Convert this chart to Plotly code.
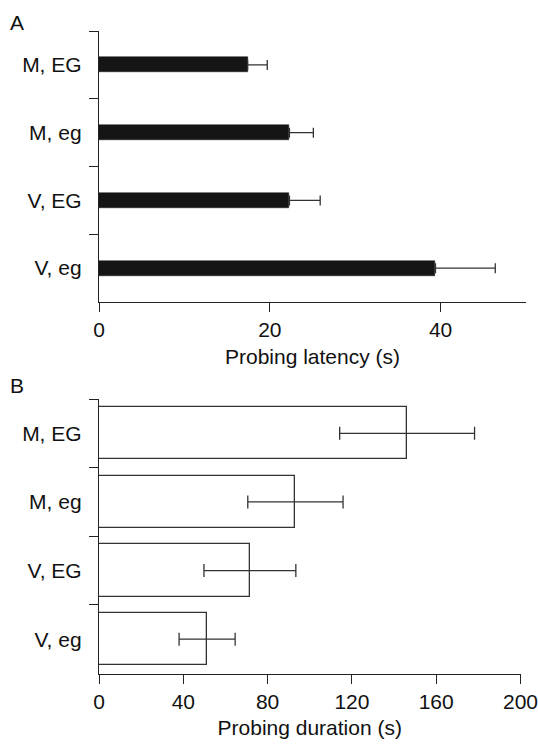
import plotly.graph_objects as go

W, H = 538, 744

categories = ["M, EG", "M, eg", "V, EG", "V, eg"]

latency_mean = [17.4, 22.3, 22.3, 39.4]
latency_err = [2.3, 2.8, 3.6, 7.0]

duration_mean = [146.2, 93.2, 71.6, 51.3]
duration_err = [32.0, 22.6, 21.8, 13.3]

latency_ticks = [0, 20, 40]
duration_ticks = [0, 40, 80, 120, 160, 200]

FONT = "Liberation Sans, Arial, Helvetica, sans-serif"
FS = 21
INK = "#222222"


def px_x(a, b):
    return [a / W, b / W]


def px_y(top, bottom):
    return [1 - bottom / H, 1 - top / H]


fig = go.Figure()

fig.add_trace(go.Bar(
    y=categories, x=latency_mean, orientation="h",
    width=0.22,
    marker=dict(color="#151515", line=dict(color="#151515", width=0.5)),
    error_x=dict(type="data", array=latency_err, arrayminus=[0] * len(latency_err),
                 symmetric=False, color="#333333", thickness=1.3, width=5),
    xaxis="x", yaxis="y", showlegend=False,
))

fig.add_trace(go.Bar(
    y=categories, x=duration_mean, orientation="h",
    width=0.76,
    marker=dict(color="white", line=dict(color="#333333", width=1.3)),
    error_x=dict(type="data", array=duration_err, color="#333333",
                 thickness=1.3, width=6.5),
    xaxis="x2", yaxis="y2", showlegend=False,
))

axis_common = dict(
    showline=True, linecolor=INK, linewidth=1.3,
    ticks="outside", ticklen=9, tickwidth=1.3, tickcolor=INK,
    showgrid=False, zeroline=False, automargin=False,
    ticklabeloverflow="allow",
    tickfont=dict(family=FONT, size=FS, color="#111111"),
    fixedrange=True,
)

fig.update_layout(
    width=W, height=H,
    margin=dict(l=0, r=0, t=0, b=0),
    paper_bgcolor="white", plot_bgcolor="white",
    font=dict(family=FONT, size=FS, color="#111111"),
    bargap=0,
    xaxis=dict(
        domain=px_x(99, 526), anchor="y", range=[0, 50],
        tickvals=latency_ticks,
        title=dict(text="Probing latency (s)", standoff=8,
                   font=dict(family=FONT, size=FS)),
        **axis_common,
    ),
    yaxis=dict(
        domain=px_y(31, 302), anchor="x", type="category",
        categoryorder="array", categoryarray=categories,
        range=[3.5, -0.5], tickson="boundaries", ticklabelstandoff=12,
        **axis_common,
    ),
    xaxis2=dict(
        domain=px_x(99, 520.5), anchor="y2", range=[0, 200],
        tickvals=duration_ticks,
        title=dict(text="Probing duration (s)", standoff=8,
                   font=dict(family=FONT, size=FS)),
        **axis_common,
    ),
    yaxis2=dict(
        domain=px_y(399, 673.5), anchor="x2", type="category",
        categoryorder="array", categoryarray=categories,
        range=[3.5, -0.5], tickson="boundaries", ticklabelstandoff=12,
        **axis_common,
    ),
    annotations=[
        dict(text="A", x=8 / W, y=1 - 9 / H, xref="paper", yref="paper",
             xanchor="left", yanchor="top", showarrow=False,
             font=dict(family=FONT, size=FS, color="#111111")),
        dict(text="B", x=8 / W, y=1 - 372 / H, xref="paper", yref="paper",
             xanchor="left", yanchor="top", showarrow=False,
             font=dict(family=FONT, size=FS, color="#111111")),
    ],
)

fig.write_html("out.html")
